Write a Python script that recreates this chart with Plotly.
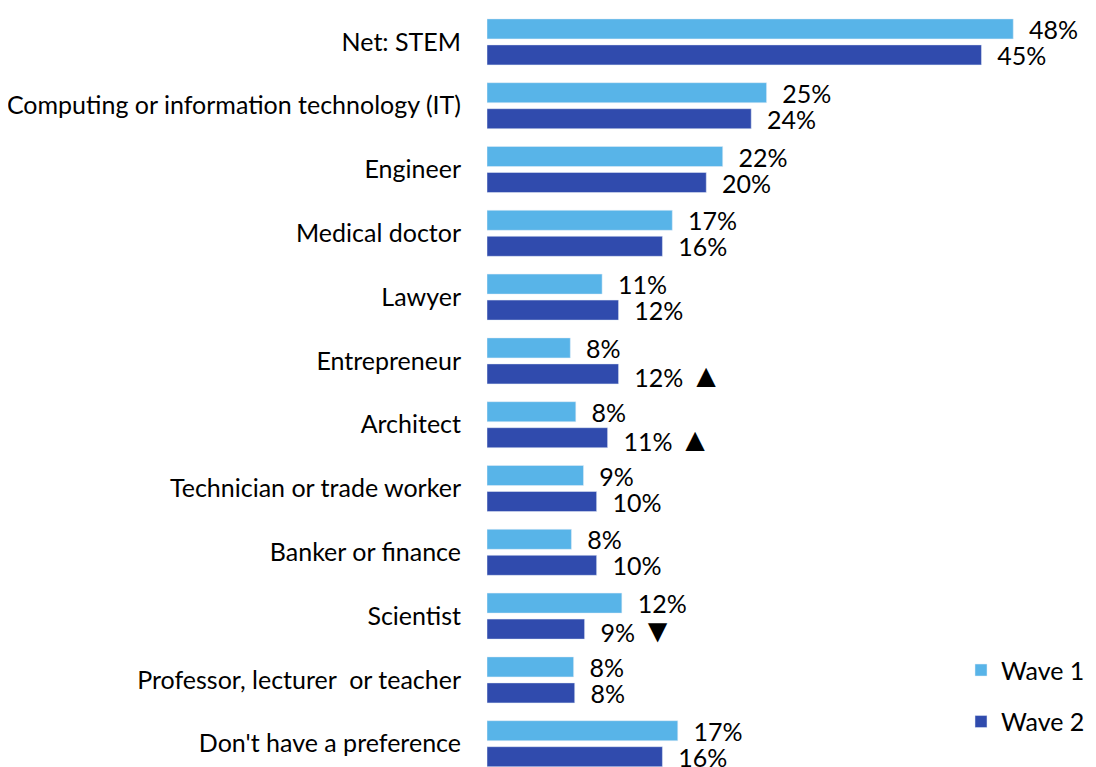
import plotly.graph_objects as go

categories = [
    "Net: STEM",
    "Computing or information technology (IT)",
    "Engineer",
    "Medical doctor",
    "Lawyer",
    "Entrepreneur",
    "Architect",
    "Technician or trade worker",
    "Banker or finance",
    "Scientist",
    "Professor, lecturer  or teacher",
    "Don't have a preference",
]

# bar lengths (percent)
wave1 = [48.0, 25.5, 21.5, 16.9, 10.5, 7.6, 8.1, 8.8, 7.7, 12.3, 7.9, 17.4]
wave2 = [45.1, 24.1, 20.0, 16.0, 12.0, 12.0, 11.0, 10.0, 10.0, 8.9, 8.0, 16.0]

# printed labels
wave1_labels = ["48%", "25%", "22%", "17%", "11%", "8%", "8%", "9%", "8%", "12%", "8%", "17%"]
wave2_labels = ["45%", "24%", "20%", "16%", "12%", "12%", "11%", "10%", "10%", "9%", "8%", "16%"]
wave2_sig = ["", "", "", "", "", "▲", "▲", "", "", "▼", "", ""]

LIGHT = "#58B4E8"
DARK = "#304BAD"
FONT = "Lato, Carlito, sans-serif"
PAD = "\u00a0\u00a0"


def label(t, sig=""):
    s = PAD + t
    if sig:
        s += "\u00a0<span style='font-size:33px'>" + sig + "</span>"
    return s


fig = go.Figure()
fig.add_trace(
    go.Bar(
        y=categories,
        x=wave1,
        orientation="h",
        name="Wave 1",
        marker_color=LIGHT,
        text=[label(t) for t in wave1_labels],
        textposition="outside",
        constraintext="none",
        cliponaxis=False,
        textfont=dict(size=25, color="#000000", family=FONT),
        legendgroup="w1",
    )
)
fig.add_trace(
    go.Bar(
        y=categories,
        x=wave2,
        orientation="h",
        name="Wave 2",
        marker_color=DARK,
        text=[label(t, s) for t, s in zip(wave2_labels, wave2_sig)],
        textposition="outside",
        constraintext="none",
        cliponaxis=False,
        textfont=dict(size=25, color="#000000", family=FONT),
        legendgroup="w2",
    )
)

fig.update_yaxes(
    range=[11.365, -0.5],
    automargin=False,
    showline=False,
    showgrid=False,
    ticks="",
    ticklabelstandoff=25,
    tickfont=dict(size=25, color="#000000", family=FONT),
)
fig.update_xaxes(
    range=[0, 55],
    automargin=False,
    visible=False,
)
# the page body adds an 8px offset, so the figure is drawn 8px smaller
fig.update_layout(
    width=1088,
    height=759,
    barmode="group",
    bargap=0.185,
    bargroupgap=0.23,
    plot_bgcolor="white",
    paper_bgcolor="white",
    margin=dict(l=479, r=6, t=2, b=0, autoexpand=False),
    legend=dict(
        x=1.0,
        y=0.03,
        xanchor="right",
        yanchor="bottom",
        font=dict(size=25, color="#000000", family=FONT),
        tracegroupgap=16,
        bgcolor="rgba(0,0,0,0)",
    ),
    showlegend=True,
)

fig.write_html("out.html")
